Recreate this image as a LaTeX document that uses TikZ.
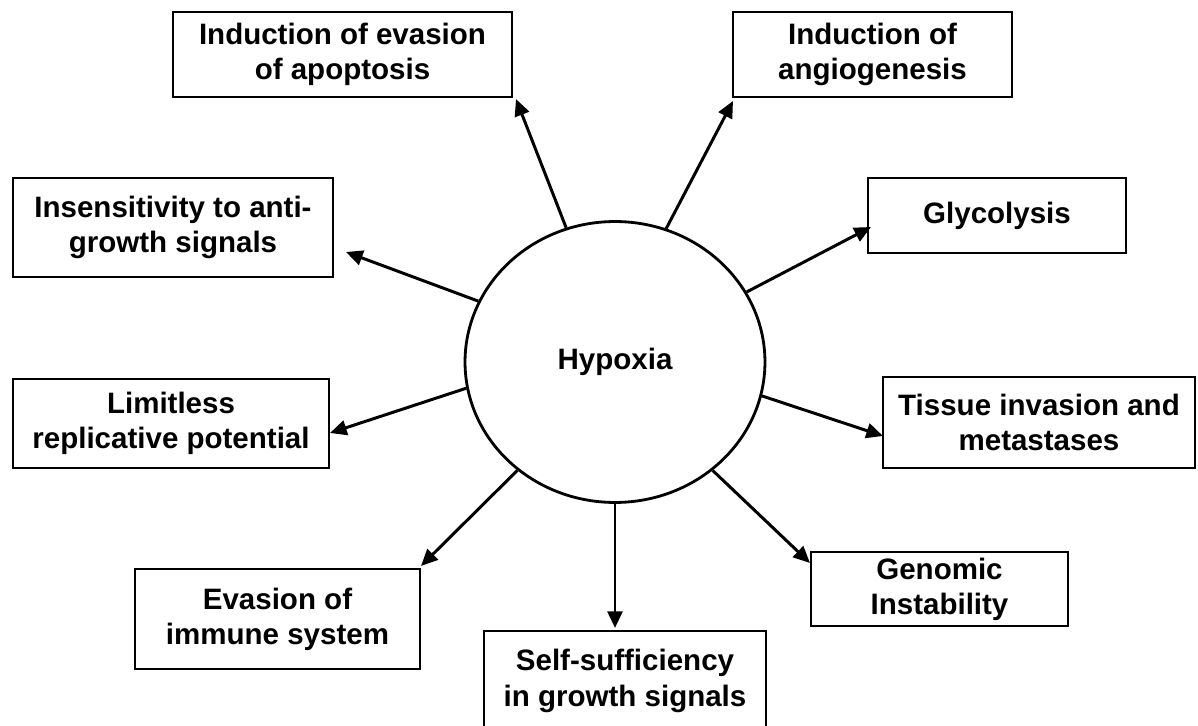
\documentclass[tikz,border=0pt]{standalone}
\usepackage{fontspec}
\setmainfont{Liberation Sans}
\usetikzlibrary{shapes.geometric,arrows.meta}

\begin{document}
\begin{tikzpicture}[x=0.02cm,y=-0.02cm,
    box/.style={draw, rectangle, line width=1.2pt, align=center, inner sep=0pt,
      font=\bfseries\fontsize{16.8}{20}\selectfont},
    arr/.style={-{Triangle[length=9.5pt,width=8.5pt]}, line width=1.7pt}]
  \useasboundingbox (0,0) rectangle (1198,726);

  % Centre
  \node[draw, ellipse, line width=1.6pt, minimum width=6cm, minimum height=5.62cm,
    inner sep=0pt, font=\bfseries\fontsize{16.8}{20}\selectfont] (hyp) at (615,362) {Hypoxia};

  % Consequences
  \node[box, minimum width=6.78cm, minimum height=1.7cm] (apop) at (342.5,54.5) {Induction of evasion\\of apoptosis};
  \node[box, minimum width=5.58cm, minimum height=1.7cm] (angio) at (872.5,54.5) {Induction of\\angiogenesis};
  \node[box, minimum width=6.4cm, minimum height=1.98cm] (insens) at (173,227.5) {Insensitivity to anti-\\growth signals};
  \node[box, minimum width=5.16cm, minimum height=1.5cm] (glyc) at (997,215.5) {Glycolysis};
  \node[box, minimum width=6.32cm, minimum height=1.78cm] (limit) at (171,423.5) {Limitless\\replicative potential};
  \node[box, minimum width=6.24cm, minimum height=1.82cm] (tissue) at (1039,422.5) {Tissue invasion and\\metastases};
  \node[box, minimum width=5.7cm, minimum height=2cm] (immune) at (277.5,619) {Evasion of\\immune system};
  \node[box, minimum width=5.64cm, minimum height=2cm] (self) at (625,681) {Self-sufficiency\\in growth signals};
  \node[box, minimum width=5.14cm, minimum height=1.48cm] (genom) at (939.5,589) {Genomic\\Instability};

  % Arrow ends
  \coordinate (tApop) at (516,99);
  \coordinate (tAngio) at (733,101);
  \coordinate (tIns) at (346,252);
  \coordinate (tGly) at (871,227);
  \coordinate (tLim) at (330,433);
  \coordinate (tTis) at (883,436);
  \coordinate (tImm) at (421,566);
  \coordinate (tSelf) at (615,628);
  \coordinate (tGen) at (810,563);

  \foreach \a/\t in {110/tApop, 69/tAngio, 156/tIns, 28/tGly, 190/tLim, 347/tTis, 228/tImm, 270/tSelf, 312/tGen}
    \draw[arr] (hyp.\a) -- (\t);
\end{tikzpicture}
\end{document}
